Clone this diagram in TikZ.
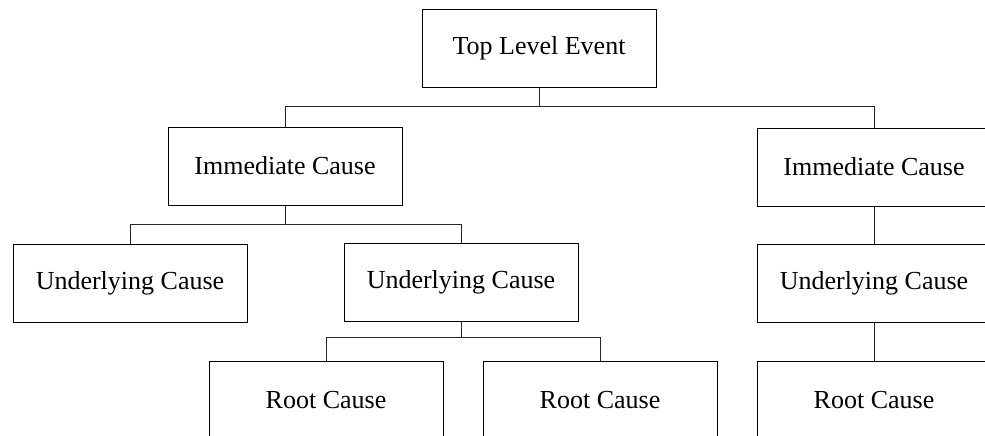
\documentclass[tikz,border=0pt]{standalone}
\usepackage{fontspec}
\setmainfont{Liberation Serif}
\begin{document}
\begin{tikzpicture}[x=1pt,y=-1pt,
  cause/.style={draw=black, line width=0.8pt, minimum width=234pt, minimum height=78pt,
    inner sep=0pt, font=\fontsize{26}{30}\selectfont},
  link/.style={draw=black!85, line width=0.7pt}]
  \useasboundingbox (0,0) rectangle (985,436);
  \clip (0,0) rectangle (985,436);
  \fill[white] (0,0) rectangle (985,436);

  % boxes
  \node[cause] (top)   at (539,48.5) {Top Level Event};
  \node[cause] (immL)  at (285,166)  {Immediate Cause};
  \node[cause] (immR)  at (874,167)  {Immediate Cause};
  \node[cause] (undL)  at (130,283)  {Underlying Cause};
  \node[cause] (undM)  at (461,282)  {Underlying Cause};
  \node[cause] (undR)  at (874,283)  {Underlying Cause};
  \node[cause] (rootL) at (326,400)  {Root Cause};
  \node[cause] (rootM) at (600,400)  {Root Cause};
  \node[cause] (rootR) at (874,400)  {Root Cause};

  % rails of the tree
  \coordinate (railA) at (0,106);
  \coordinate (railB) at (0,224);
  \coordinate (railC) at (0,337);

  \draw[link] (top.south) -- (top.south |- railA);
  \draw[link] (immL.north) -- (immL.north |- railA) -- (immR.north |- railA) -- (immR.north);

  \draw[link] (immL.south) -- (immL.south |- railB);
  \draw[link] (undL.north) -- (undL.north |- railB) -- (undM.north |- railB) -- (undM.north);

  \draw[link] (undM.south) -- (undM.south |- railC);
  \draw[link] (rootL.north) -- (rootL.north |- railC) -- (rootM.north |- railC) -- (rootM.north);

  \draw[link] (immR.south) -- (undR.north);
  \draw[link] (undR.south) -- (rootR.north);
\end{tikzpicture}
\end{document}
